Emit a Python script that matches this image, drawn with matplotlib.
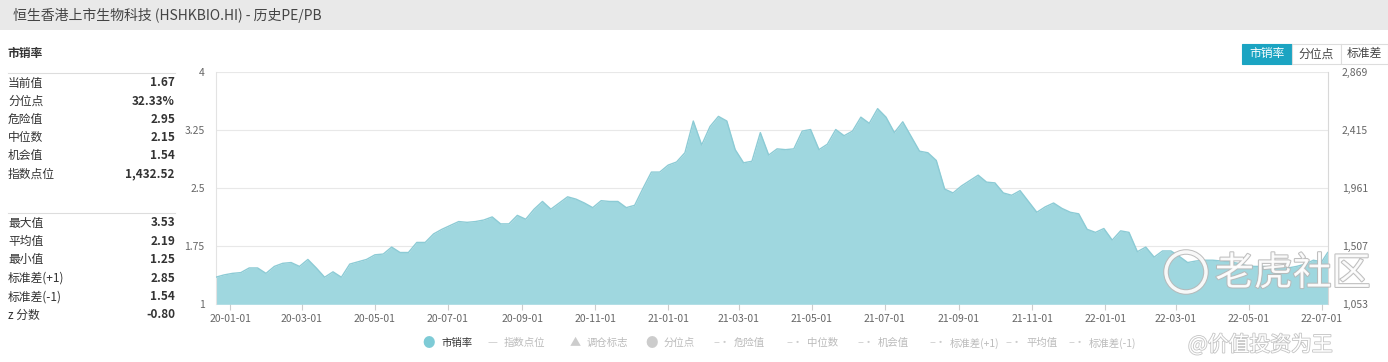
import pandas as pd
import matplotlib
matplotlib.use("Agg")
import matplotlib.pyplot as plt
import matplotlib.dates as mdates
import matplotlib.patheffects as pe
from matplotlib.patches import Ellipse

plt.rcParams['font.family'] = ['Noto Sans CJK SC', 'DejaVu Sans']

# weekly P/S values (Fridays from 2019-12-20), plus the latest day
ps_values = [
    1.35, 1.38, 1.40, 1.41, 1.47, 1.47, 1.40, 1.49, 1.53, 1.54,
    1.49, 1.58, 1.47, 1.35, 1.42, 1.35, 1.52, 1.55, 1.58, 1.64,
    1.65, 1.74, 1.67, 1.67, 1.80, 1.80, 1.91, 1.97, 2.02, 2.07,
    2.06, 2.07, 2.09, 2.13, 2.04, 2.04, 2.15, 2.10, 2.23, 2.33,
    2.23, 2.31, 2.39, 2.36, 2.31, 2.25, 2.34, 2.33, 2.33, 2.25,
    2.28, 2.50, 2.71, 2.71, 2.80, 2.84, 2.96, 3.37, 3.06, 3.30,
    3.43, 3.37, 3.00, 2.83, 2.85, 3.22, 2.93, 3.01, 3.00, 3.01,
    3.24, 3.26, 3.00, 3.07, 3.26, 3.18, 3.24, 3.42, 3.34, 3.53,
    3.42, 3.22, 3.36, 3.17, 2.98, 2.96, 2.86, 2.49, 2.44, 2.53,
    2.60, 2.67, 2.58, 2.57, 2.44, 2.41, 2.47, 2.33, 2.19, 2.26,
    2.31, 2.24, 2.19, 2.17, 1.97, 1.93, 1.98, 1.83, 1.95, 1.93,
    1.68, 1.74, 1.61, 1.69, 1.69, 1.62, 1.54, 1.56, 1.57, 1.57,
    1.56, 1.55, 1.53, 1.50, 1.49, 1.49, 1.48, 1.47, 1.47, 1.49,
    1.52, 1.57, 1.55,
]
latest_date = "2022-07-06"
latest_value = 1.67

left_ticks = [1, 1.75, 2.5, 3.25, 4]
left_tick_labels = ["1", "1.75", "2.5", "3.25", "4"]
right_ticks = [1053, 1507, 1961, 2415, 2869]
right_tick_labels = ["1,053", "1,507", "1,961", "2,415", "2,869"]
x_tick_dates = ["2020-01-01", "2020-03-01", "2020-05-01", "2020-07-01", "2020-09-01",
                "2020-11-01", "2021-01-01", "2021-03-01", "2021-05-01", "2021-07-01",
                "2021-09-01", "2021-11-01", "2022-01-01", "2022-03-01", "2022-05-01",
                "2022-07-01"]

stat_group1 = [("当前值", "1.67"), ("分位点", "32.33%"), ("危险值", "2.95"),
               ("中位数", "2.15"), ("机会值", "1.54"), ("指数点位", "1,432.52")]
stat_group2 = [("最大值", "3.53"), ("平均值", "2.19"), ("最小值", "1.25"),
               ("标准差(+1)", "2.85"), ("标准差(-1)", "1.54"), ("z 分数", "-0.80")]

legend_items = [("●", "市销率"), ("—", "指数点位"), ("▲", "调仓标志"), ("●", "分位点"),
                ("–·", "危险值"), ("–·", "中位数"), ("–·", "机会值"),
                ("–·", "标准差(+1)"), ("–·", "平均值"), ("–·", "标准差(-1)")]

dates = list(pd.date_range("2019-12-20", periods=len(ps_values), freq="7D"))
dates.append(pd.Timestamp(latest_date))
values = ps_values + [latest_value]

W, H = 1388, 362
fig = plt.figure(figsize=(W / 100, H / 100), dpi=100)
fig.patch.set_facecolor("white")

def fx(px):
    return px / W

def fy(py):
    return 1 - py / H

# title bar
fig.patches.append(plt.Rectangle((0, fy(30)), 1, 30 / H, transform=fig.transFigure,
                                 facecolor="#e9e9e9", edgecolor="none", zorder=0))
fig.text(fx(13), fy(15), "恒生香港上市生物科技 (HSHKBIO.HI) - 历史PE/PB", fontsize=10,
         color="#444444", va="center", ha="left")

# left stats panel
fig.text(fx(8), fy(53), "市销率", fontsize=8.5, fontweight="bold", color="#333333", va="center")
for yline in [73, 213]:
    fig.add_artist(plt.Line2D([fx(8), fx(175)], [fy(yline), fy(yline)], color="#dddddd", lw=0.8))
for i, (lab, val) in enumerate(stat_group1):
    y = 83 + i * 18.2
    fig.text(fx(8), fy(y), lab, fontsize=8.5, color="#333333", va="center")
    fig.text(fx(175), fy(y), val, fontsize=8.5, color="#333333", fontweight="bold", va="center", ha="right")
for i, (lab, val) in enumerate(stat_group2):
    y = 223 + i * 18.4
    fig.text(fx(8), fy(y), lab, fontsize=8.5, color="#333333", va="center")
    fig.text(fx(175), fy(y), val, fontsize=8.5, color="#333333", fontweight="bold", va="center", ha="right")

# buttons top right
buttons = [("市销率", 1242, 1292, True), ("分位点", 1292, 1341, False), ("标准差", 1341, 1388, False)]
for txt, x0, x1, active in buttons:
    fig.patches.append(plt.Rectangle((fx(x0), fy(64)), (x1 - x0) / W, 20 / H, transform=fig.transFigure,
                                     facecolor="#1ba4c2" if active else "white",
                                     edgecolor="#1ba4c2" if active else "#dddddd", lw=0.8, zorder=1))
    fig.text(fx((x0 + x1) / 2), fy(54), txt, fontsize=8.5, ha="center", va="center",
             color="white" if active else "#444444", zorder=2)

# main chart
ax = fig.add_axes([fx(215.7), fy(304.3), fx(1327.7 - 215.7), (304.3 - 72.3) / H])
ax.fill_between(dates, 1, values, color="#9fd7df", lw=0, zorder=2)
ax.plot(dates, values, color="#8ccbd5", lw=1.0, zorder=3)
ax.set_xlim(dates[0], dates[-1])
ax.set_ylim(1, 4)
ax.set_yticks(left_ticks)
ax.set_yticklabels(left_tick_labels)
ax.grid(axis="y", color="#e8e8e8", lw=0.8, zorder=1)
ax.set_xticks([pd.Timestamp(d) for d in x_tick_dates])
ax.xaxis.set_major_formatter(mdates.DateFormatter("%y-%m-%d"))
ax.tick_params(axis="x", length=4, color="#cccccc", labelsize=7.5, labelcolor="#666666", pad=3)
ax.tick_params(axis="y", length=0, labelsize=7.5, labelcolor="#666666", pad=8)
for s in ["top", "bottom"]:
    ax.spines[s].set_visible(False)
ax.spines["left"].set_color("#e3e3e3")
ax.spines["right"].set_color("#d8d8d8")

ax2 = ax.twinx()
ax2.set_ylim(1053, 2869)
ax2.set_yticks(right_ticks)
ax2.set_yticklabels(right_tick_labels)
ax2.tick_params(axis="y", length=0, labelsize=7.5, labelcolor="#666666", pad=10)
for s in ["top", "bottom", "left", "right"]:
    ax2.spines[s].set_visible(False)

# legend row
legend_x = [429, 492, 575, 652, 722, 795, 866, 938, 1014, 1077]
for i, ((sym, lab), x) in enumerate(zip(legend_items, legend_x)):
    first = i == 0
    sym_color = "#7ecbd6" if first else "#cccccc"
    lab_color = "#333333" if first else "#bbbbbb"
    fig.text(fx(x), fy(343), sym, fontsize=9 if sym == "●" else 8, color=sym_color,
             ha="center", va="center")
    offset = 12 if len(sym) == 1 else 12
    fig.text(fx(x + offset), fy(343), lab, fontsize=7.5, color=lab_color, ha="left", va="center")

# watermark
logo = Ellipse((fx(1186), fy(272)), 40 / W, 40 / H, transform=fig.transFigure,
               facecolor="none", edgecolor="white", lw=2.5, alpha=0.9,
               path_effects=[pe.withStroke(linewidth=4, foreground="#b8b8b8")])
fig.patches.append(logo)
fig.text(fx(1215), fy(274), "老虎社区", fontsize=28, color="white", alpha=0.9, ha="left", va="center",
         path_effects=[pe.withStroke(linewidth=1.5, foreground="#b8b8b8")])
fig.text(fx(1188), fy(345), "@价值投资为王", fontsize=15, color="white", ha="left", va="center",
         path_effects=[pe.withStroke(linewidth=1.2, foreground="#c4c4c4")])

fig.savefig("out.png", dpi=100)
